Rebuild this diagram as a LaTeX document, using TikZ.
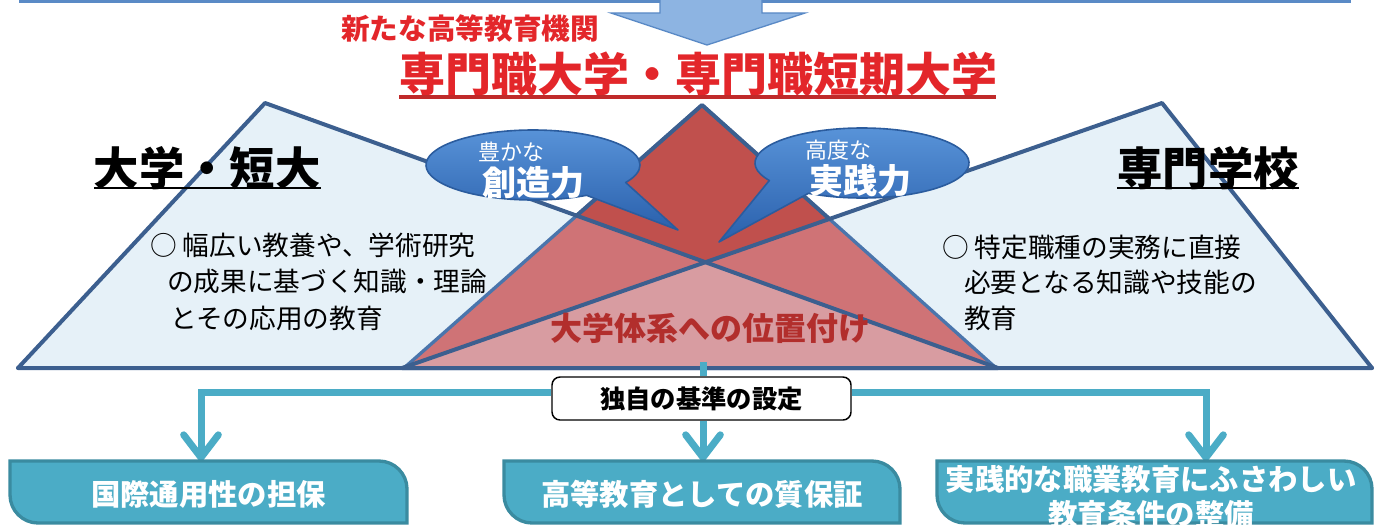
\documentclass[tikz,border=0pt]{standalone}
\usepackage{fontspec}
\setmainfont{Noto Sans CJK JP}
\usetikzlibrary{arrows.meta,calc}
\definecolor{edge}{HTML}{3C5F8F}
\definecolor{midedge}{HTML}{4A75AC}
\definecolor{triblue}{HTML}{E6F1F8}
\definecolor{redtri}{HTML}{C0504D}
\definecolor{redone}{HTML}{CF7376}
\definecolor{redtwo}{HTML}{D89CA1}
\definecolor{tealc}{HTML}{4BACC6}
\definecolor{tealdark}{HTML}{3A8BA0}
\definecolor{titlered}{HTML}{E3262A}
\definecolor{ulred}{HTML}{C02A2A}
\definecolor{bubtop}{HTML}{5A95DA}
\definecolor{bubbot}{HTML}{2A60AC}
\definecolor{bubedge}{HTML}{2B5C9E}
\definecolor{arrowfill}{HTML}{8DB4E2}
\definecolor{arrowedge}{HTML}{5A8AC6}
\definecolor{labred}{HTML}{B22E2C}
\newcommand\diagbox[4]{%
  \path[bottombox] (#1,#2) -- (#3-28,#2) .. controls (#3-12.6,#2) and (#3,#2+12.6) .. (#3,#2+28)
    -- (#3,#4) -- (#1+28,#4) .. controls (#1+12.6,#4) and (#1,#4-12.6) .. (#1,#4-28) -- cycle;}
\begin{document}
\begin{tikzpicture}[x=0.75pt,y=-0.75pt,
  outline/.style={draw=edge,line width=3pt,line join=round},
  bubble/.style={draw=bubedge,line width=1.2pt,top color=bubtop,bottom color=bubbot,line join=round},
  bubsmall/.style={text=white,inner sep=0pt,font=\fontsize{16.5}{18}\selectfont},
  bubbig/.style={text=white,inner sep=0pt,font=\bfseries\fontsize{25.5}{27}\selectfont},
  body/.style={anchor=west,inner sep=0pt,font=\fontsize{20}{22}\selectfont},
  headtitle/.style={inner sep=0pt,font=\bfseries\fontsize{34}{36}\selectfont},
  tealline/.style={draw=tealc,line width=5.25pt},
  tealarrow/.style={tealline,-{Straight Barb[length=17pt,width=26pt,round]}},
  bottombox/.style={fill=tealc,draw=tealdark,line width=2.5pt},
  btext/.style={text=white,inner sep=0pt,align=center,font=\bfseries\fontsize{22}{26.25}\selectfont},
  stdbox/.style={draw=black,fill=white,line width=1.1pt,rounded corners=6pt,inner sep=0pt,
    minimum width=224.25pt,minimum height=32.25pt,font=\bfseries\fontsize{19}{20}\selectfont}]
\useasboundingbox (0,0) rectangle (1376,528);

% top border and big arrow
\draw[arrowedge,line width=2.25pt] (19,1.2) -- (1351,1.2);
\filldraw[fill=arrowfill,draw=arrowedge,line width=1pt,line join=miter]
  (660,-5) -- (660,13) -- (611,13) -- (707,45) -- (805,13) -- (762,13) -- (762,-5) -- cycle;

% red headings
\node[inner sep=0pt,text=titlered,font=\bfseries\fontsize{21.5}{22}\selectfont] (newinst) at (470,29) {新たな高等教育機関};
\node[inner sep=0pt,text=titlered,font=\bfseries\fontsize{34.5}{36}\selectfont] (pro) at (698,74) {専門職大学・専門職短期大学};
\draw[ulred,line width=2.4pt] (399,97) -- (996,97);

% triangles
\coordinate (LA) at (265,103); \coordinate (LL) at (18,368); \coordinate (LR) at (998,368);
\coordinate (RA) at (1162,103); \coordinate (RL) at (402,368); \coordinate (RR) at (1372,368);
\coordinate (MA) at (702,105); \coordinate (ML) at (404,368); \coordinate (MR) at (996,368);

\fill[triblue] (LA) -- (LL) -- (LR) -- cycle;
\fill[triblue] (RA) -- (RL) -- (RR) -- cycle;
\fill[redtri] (MA) -- (ML) -- (MR) -- cycle;
\begin{scope}
  \clip (MA) -- (ML) -- (MR) -- cycle;
  \fill[redone] (LA) -- (LL) -- (LR) -- cycle;
  \fill[redone] (RA) -- (RL) -- (RR) -- cycle;
  \clip (LA) -- (LL) -- (LR) -- cycle;
  \fill[redtwo] (RA) -- (RL) -- (RR) -- cycle;
\end{scope}
\draw[midedge,line width=2.5pt,line join=round] (ML) -- (MA) -- (MR);
\draw[outline] ($(MA)!0.422!(ML)$) -- (MA) -- ($(MA)!0.433!(MR)$);
\draw[outline] (LA) -- (LL) -- (LR) -- cycle;
\draw[outline] (RA) -- (RL) -- (RR) -- cycle;
\draw[outline,line cap=round] (LL) -- (RR);

% titles
\node[headtitle] (univ) at (207,168) {大学・短大};
\draw[black,line width=2.2pt] (94,188) -- (321,188);
\node[headtitle] (senmon) at (1208,168) {専門学校};
\draw[black,line width=2.2pt] (1117,188) -- (1299,188);

% body texts
\node[body] (l1) at (150,245) {○ 幅広い教養や、学術研究};
\node[body] (l2) at (167,281) {の成果に基づく知識・理論};
\node[body] (l3) at (170,318) {とその応用の教育};
\node[body] (r1) at (942,247) {○ 特定職種の実務に直接};
\node[body] (r2) at (964,282) {必要となる知識や技能の};
\node[body] (r3) at (964,318) {教育};

% bubbles
\path[bubble] (533,165) ++(60:107 and 35) arc[start angle=60,end angle=390,x radius=107,y radius=35] -- (678,230) -- cycle;
\path[bubble] (862,163) ++(150:107 and 35) arc[start angle=150,end angle=480,x radius=107,y radius=35] -- (719,242) -- cycle;
\node[bubsmall] (yutaka) at (511,152) {豊かな};
\node[bubbig] (sozo) at (533,183) {創造力};
\node[bubsmall] (kodo) at (838,150) {高度な};
\node[bubbig] (jissen) at (860,181) {実践力};

% center label
\node[inner sep=0pt,text=labred,font=\bfseries\fontsize{24}{26}\selectfont] (ichi) at (710,328) {大学体系への位置付け};

% connectors
\coordinate (base) at (703,362);
\coordinate (jl) at (201,392);
\coordinate (jr) at (1206,392);
\coordinate (t1) at (201,461);
\coordinate (t2) at (703,461);
\coordinate (t3) at (1206,461);
\node[stdbox] (std) at (701.5,398.5) {独自の基準の設定};
\draw[tealline] (base) -- (std.north -| base);
\draw[tealarrow] (std.west |- jl) -- (jl) -- (t1);
\draw[tealarrow] (std.east |- jr) -- (jr) -- (t3);
\draw[tealarrow] (std.south -| t2) -- (t2);

% bottom boxes
\diagbox{10}{461}{407}{523}
\diagbox{504}{461}{900}{523}
\diagbox{937}{461}{1372}{523}
\node[btext] (b1) at (208.5,494) {国際通用性の担保};
\node[btext] (b2) at (702,494) {高等教育としての質保証};
\node[btext] (b3) at (1151,497) {実践的な職業教育にふさわしい\\教育条件の整備};
\end{tikzpicture}
\end{document}
